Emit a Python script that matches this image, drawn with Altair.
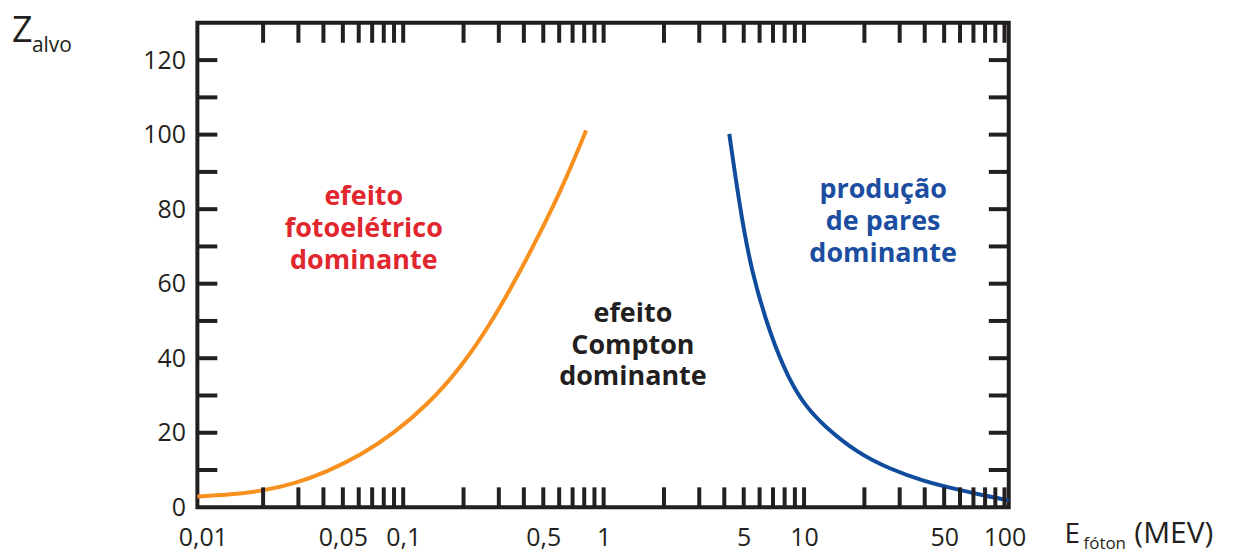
import altair as alt
import pandas as pd

# ---------------- data ----------------
# orange boundary: photoelectric / Compton
foto_E = [0.0094, 0.01325, 0.01956, 0.02853, 0.04164, 0.06144, 0.08968,
          0.1309, 0.1931, 0.2818, 0.4111, 0.6069, 0.8175]
foto_Z = [2.9, 3.3, 4.3, 6.3, 9.5, 14.0, 19.8, 27.3, 37.3, 50.3, 66.3, 84.3, 101.1]

# blue boundary: Compton / pair production
pares_E = [4.236, 4.750, 5.426, 6.823, 8.421, 10.18, 12.57, 18.41, 26.96,
           39.52, 57.85, 81.55, 98.74, 105]
pares_Z = [100.2, 81.5, 63.7, 45.8, 34.2, 27.1, 21.8, 14.6, 10.2, 7.0, 4.8, 3.0, 2.1, 1.95]

x_labels = [0.01, 0.05, 0.1, 0.5, 1, 5, 10, 50, 100]
y_labels = [0, 20, 40, 60, 80, 100, 120]
x_minor = [0.02, 0.03, 0.04, 0.05, 0.06, 0.07, 0.08, 0.09, 0.1,
           0.2, 0.3, 0.4, 0.5, 0.6, 0.7, 0.8, 0.9, 1,
           2, 3, 4, 5, 6, 7, 8, 9, 10,
           20, 30, 40, 50, 60, 70, 80, 90, 100]
y_minor = [10, 20, 30, 40, 50, 60, 70, 80, 90, 100, 110, 120]

region_text = ["efeito\nfotoelétrico\ndominante",
               "efeito\nCompton\ndominante",
               "produção\nde pares\ndominante"]
region_E = [0.0636, 1.40, 24.8]
region_Z = [81.1, 49.8, 82.9]
region_color = ["#E1262E", "#231F20", "#1B4DA0"]

# ---------------- styling ----------------
INK = "#231F20"
ORANGE = "#F7901E"
BLUE = "#0F4C9E"
FONT = "Open Sans"
W, H = 814, 486

xscale = alt.Scale(type="log", domain=[0.0094, 105], nice=False)
yscale = alt.Scale(domain=[0, 130], nice=False, zero=False)

xaxis = alt.Axis(values=x_labels, labelExpr="replace(format(datum.value, '~g'), '.', ',')",
                 ticks=False, domain=False, grid=False, title=None,
                 labelFont=FONT, labelFontSize=25, labelColor=INK, labelPadding=18,
                 labelFlush=False, labelOverlap=False)
yaxis = alt.Axis(values=y_labels, ticks=False, domain=False, grid=False, title=None,
                 labelFont=FONT, labelFontSize=25, labelColor=INK, labelPadding=12,
                 labelOverlap=False)


def xenc(f):
    return alt.X(f"{f}:Q", scale=xscale, axis=xaxis)


def yenc(f):
    return alt.Y(f"{f}:Q", scale=yscale, axis=yaxis)


foto_df = pd.DataFrame({"E": foto_E, "Z": foto_Z})
pares_df = pd.DataFrame({"E": pares_E, "Z": pares_Z})
xt_df = pd.DataFrame({"E": x_minor})
yt_df = pd.DataFrame({"Z": y_minor})
reg_df = pd.DataFrame({"E": region_E, "Z": region_Z, "t": region_text, "c": region_color})
one = pd.DataFrame({"a": [0]})

foto = alt.Chart(foto_df).mark_line(color=ORANGE, strokeWidth=4, interpolate="basis").encode(
    x=xenc("E"), y=yenc("Z"))
pares = alt.Chart(pares_df).mark_line(color=BLUE, strokeWidth=4, interpolate="basis").encode(
    x=xenc("E"), y=yenc("Z"))

tick_style = dict(color=INK, strokeWidth=4)
top_ticks = alt.Chart(xt_df).mark_rule(**tick_style).encode(
    x=xenc("E"), y=alt.value(0), y2=alt.value(20))
bot_ticks = alt.Chart(xt_df).mark_rule(**tick_style).encode(
    x=xenc("E"), y=alt.value(H - 20), y2=alt.value(H))
left_ticks = alt.Chart(yt_df).mark_rule(**tick_style).encode(
    y=yenc("Z"), x=alt.value(0), x2=alt.value(20))
right_ticks = alt.Chart(yt_df).mark_rule(**tick_style).encode(
    y=yenc("Z"), x=alt.value(W - 20), x2=alt.value(W))

regions = alt.Chart(reg_df).mark_text(
    font=FONT, fontSize=27, fontWeight="bold", align="center", baseline="alphabetic",
    lineBreak="\n", lineHeight=32).encode(
    x=xenc("E"), y=yenc("Z"), text="t:N", color=alt.Color("c:N", scale=None))


def label(txt, x, y, size, weight="normal"):
    return alt.Chart(one).mark_text(text=txt, font=FONT, fontSize=size, fontWeight=weight,
                                    align="left", baseline="alphabetic", color=INK).encode(
        x=alt.value(x), y=alt.value(y))


titles = [
    label("Z", -186, 19, 36),
    label("alvo", -166, 29, 21),
    label("E", 870, 522, 28),
    label("fóton", 889, 528, 17),
    label("(MEV)", 940, 522, 30),
]

chart = alt.layer(foto, pares, top_ticks, bot_ticks, left_ticks, right_ticks, regions, *titles).properties(
    width=W, height=H,
    autosize=alt.AutoSizeParams(type="none"),
    padding={"left": 190, "top": 14, "right": 228, "bottom": 50},
    background="white",
).configure_view(stroke=INK, strokeWidth=4)

chart.save("out.html", embed_options={"renderer": "svg", "actions": False})
